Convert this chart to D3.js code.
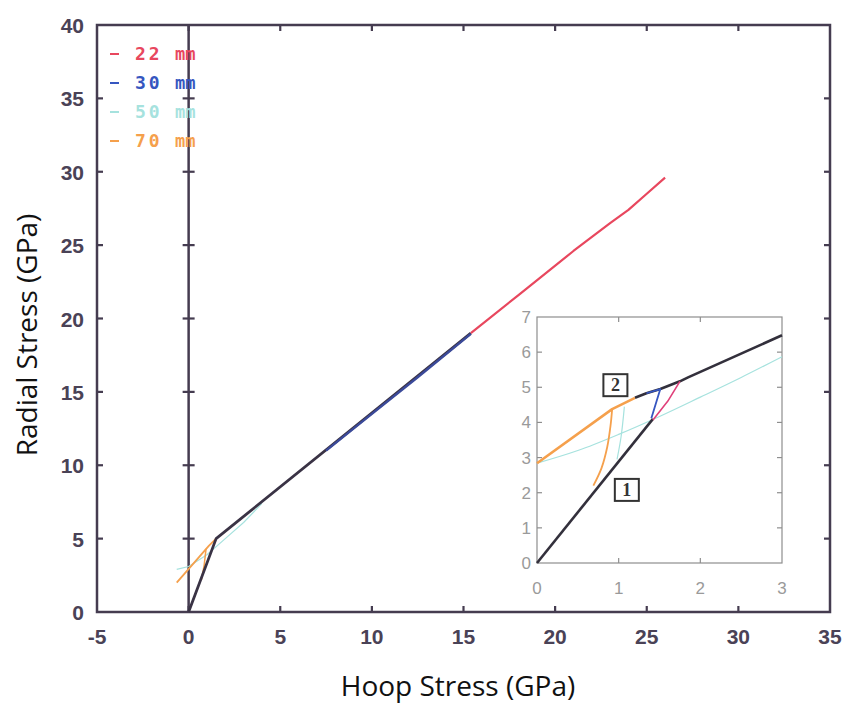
<!DOCTYPE html>
<html>
<head>
<meta charset="utf-8">
<script src="https://cdn.jsdelivr.net/npm/d3@7"></script>
<style>
  body{margin:0;background:#fff;}
  svg{display:block;}
</style>
</head>
<body>
<script>
// main plot values (hoop, radial) in GPa
const xTicks=[-5,0,5,10,15,20,25,30,35];
const yTicks=[0,5,10,15,20,25,30,35,40];
const legendLabels=['22','30','50','70'];
const legendColors=['#e8475e','#3656c0','#a6e2de','#f5a04c'];

const mainBlack=[[0,0],[1.5,5.0],[15.4,19.0]];
const main30=[[7.5,11.0],[10,13.5],[12.5,16.0],[15.4,18.95]];
const main22=[[15.4,19.0],[18,21.6],[21,24.6],[23,26.5],[24,27.4],[25,28.5],[26,29.6]];
const main70=[[-0.65,2.0],[0.4,3.5],[1.1,4.5],[1.5,5.0]];
const main70b=[[0.7,2.2],[0.85,3.2],[0.95,4.3]];
const main50=[[-0.65,2.9],[0,3.1],[1,3.9],[2,5.0],[3,6.1],[4,7.4]];

// inset values
const insXTicks=[0,1,2,3];
const insYTicks=[0,1,2,3,4,5,6,7];
const insBlackA=[[0,0],[1.42,4.1]];
const insBlackB=[[1.2,4.7],[1.34,4.83],[1.51,4.95],[1.75,5.17],[1.85,5.28],[3,6.48]];
const ins30=[[1.4,4.12],[1.51,4.95],[1.34,4.83]];
const ins22=[[1.42,4.07],[1.6,4.6],[1.75,5.17]];
const ins70=[[0,2.84],[0.92,4.38],[1.2,4.7]];
const ins70b=[[0.69,2.2],[0.79,2.7],[0.86,3.3],[0.9,3.9],[0.92,4.38]];
const ins50=[[0,2.84],[0.5,3.2],[1,3.66],[1.5,4.17],[2,4.72],[2.5,5.28],[3,5.87]];
const ins50b=[[0.98,2.95],[1.03,3.6],[1.07,4.45]];
const boxLabels=[{t:'1',x:1.1,y:2.08},{t:'2',x:0.96,y:5.06}];

const W=847,H=703;
const axisCol='#453c50';
const svg=d3.select('body').append('svg').attr('width',W).attr('height',H);

const x=d3.scaleLinear().domain([-5,35]).range([97,830]);
const y=d3.scaleLinear().domain([0,40]).range([612,25]);

// frame
svg.append('rect').attr('x',x(-5)).attr('y',y(40)).attr('width',x(35)-x(-5)).attr('height',y(0)-y(40))
  .attr('fill','none').attr('stroke',axisCol).attr('stroke-width',2.5);

// inward ticks on all four sides
const tl=6;
const g=svg.append('g').attr('stroke',axisCol).attr('stroke-width',2.2);
xTicks.slice(1,-1).forEach(v=>{
  g.append('line').attr('x1',x(v)).attr('x2',x(v)).attr('y1',y(0)).attr('y2',y(0)-tl);
  g.append('line').attr('x1',x(v)).attr('x2',x(v)).attr('y1',y(40)).attr('y2',y(40)+tl);
});
yTicks.slice(1,-1).forEach(v=>{
  g.append('line').attr('x1',x(-5)).attr('x2',x(-5)+tl).attr('y1',y(v)).attr('y2',y(v));
  g.append('line').attr('x1',x(35)).attr('x2',x(35)-tl).attr('y1',y(v)).attr('y2',y(v));
  g.append('line').attr('x1',x(0)-tl).attr('x2',x(0)+tl).attr('y1',y(v)).attr('y2',y(v));
});
// x = 0 line
g.append('line').attr('x1',x(0)).attr('x2',x(0)).attr('y1',y(0)).attr('y2',y(40)).attr('stroke-width',2.5);

// tick labels
const tickFont='"Liberation Sans", Arial, sans-serif';
svg.append('g').selectAll('text').data(xTicks).enter().append('text')
  .attr('x',d=>x(d)).attr('y',644).attr('text-anchor','middle')
  .attr('font-family',tickFont).attr('font-weight','bold').attr('font-size',21).attr('fill','#4a4256')
  .text(d=>d);
svg.append('g').selectAll('text').data(yTicks).enter().append('text')
  .attr('x',84).attr('y',d=>y(d)+8).attr('text-anchor','end')
  .attr('font-family',tickFont).attr('font-weight','bold').attr('font-size',21).attr('fill','#4a4256')
  .text(d=>d);

// axis titles
svg.append('text').attr('x',458).attr('y',696).attr('text-anchor','middle')
  .attr('font-family','"Open Sans", sans-serif').attr('font-size',28).attr('fill','#111')
  .text('Hoop Stress (GPa)');
svg.append('text').attr('transform','translate(37,335) rotate(-90)').attr('text-anchor','middle')
  .attr('font-family','"Open Sans", sans-serif').attr('font-size',28).attr('fill','#111')
  .text('Radial Stress (GPa)');

// main curves
const line=d3.line().x(d=>x(d[0])).y(d=>y(d[1]));
function path(data,col,w,ln){
  svg.append('path').datum(data).attr('d',ln||line).attr('fill','none')
    .attr('stroke',col).attr('stroke-width',w).attr('stroke-linejoin','round');
}
path(main50,legendColors[2],1.2);
path(main70,legendColors[3],1.8);
path(main70b,legendColors[3],1.5);
path(mainBlack,'#3a3345',2.8);
path(main30,'#3b4a9a',2.4);
path(main22,legendColors[0],2.2);

// legend
const leg=svg.append('g').selectAll('g').data(legendLabels).enter().append('g')
  .attr('transform',(d,i)=>'translate(0,'+(54+i*29)+')');
leg.append('line').attr('x1',110).attr('x2',119).attr('y1',0).attr('y2',0)
  .attr('stroke',(d,i)=>legendColors[i]).attr('stroke-width',2);
leg.append('text').attr('x',135).attr('y',6).text(d=>d)
  .attr('font-family','"DejaVu Sans Mono", monospace').attr('font-weight','bold').attr('font-size',18)
  .attr('letter-spacing',3).attr('fill',(d,i)=>legendColors[i]);
leg.append('text').attr('x',175).attr('y',6).text('mm')
  .attr('font-family','"DejaVu Sans Mono", monospace').attr('font-weight','bold').attr('font-size',17)
  .attr('fill',(d,i)=>legendColors[i]);

// inset
const ix=d3.scaleLinear().domain([0,3]).range([537,782]);
const iy=d3.scaleLinear().domain([0,7]).range([563,317]);
const inset=svg.append('g');
inset.append('rect').attr('x',515).attr('y',311).attr('width',280).attr('height',290).attr('fill','#fff');
inset.append('rect').attr('x',ix(0)).attr('y',iy(7)).attr('width',ix(3)-ix(0)).attr('height',iy(0)-iy(7))
  .attr('fill','none').attr('stroke','#8e8e8e').attr('stroke-width',1.2);
const it=inset.append('g').attr('stroke','#8e8e8e').attr('stroke-width',1.2);
insXTicks.slice(1,-1).forEach(v=>{
  it.append('line').attr('x1',ix(v)).attr('x2',ix(v)).attr('y1',iy(0)).attr('y2',iy(0)-5);
  it.append('line').attr('x1',ix(v)).attr('x2',ix(v)).attr('y1',iy(7)).attr('y2',iy(7)+5);
});
insYTicks.slice(1,-1).forEach(v=>{
  it.append('line').attr('x1',ix(0)).attr('x2',ix(0)+5).attr('y1',iy(v)).attr('y2',iy(v));
  it.append('line').attr('x1',ix(3)).attr('x2',ix(3)-5).attr('y1',iy(v)).attr('y2',iy(v));
});
inset.append('g').selectAll('text').data(insYTicks).enter().append('text')
  .attr('x',531).attr('y',d=>iy(d)+6).attr('text-anchor','end')
  .attr('font-family',tickFont).attr('font-size',17).attr('fill','#9a9a9a').text(d=>d);
inset.append('g').selectAll('text').data(insXTicks).enter().append('text')
  .attr('x',d=>ix(d)).attr('y',594).attr('text-anchor','middle')
  .attr('font-family',tickFont).attr('font-size',17).attr('fill','#9a9a9a').text(d=>d);

const iline=d3.line().x(d=>ix(d[0])).y(d=>iy(d[1]));
const icurve=d3.line().x(d=>ix(d[0])).y(d=>iy(d[1])).curve(d3.curveCatmullRom);
function ipath(data,col,w,ln){
  inset.append('path').datum(data).attr('d',ln||iline).attr('fill','none')
    .attr('stroke',col).attr('stroke-width',w).attr('stroke-linejoin','round');
}
ipath(ins50,legendColors[2],1.2,icurve);
ipath(ins50b,legendColors[2],1.2,icurve);
ipath(ins70b,legendColors[3],1.8,icurve);
ipath(ins70,legendColors[3],2.6);
ipath(insBlackA,'#33303c',2.6);
ipath(insBlackB,'#33303c',2.6);
ipath(ins22,'#e0407a',1.6);
ipath(ins30,'#3656c0',1.8);

const bl=inset.append('g').selectAll('g').data(boxLabels).enter().append('g')
  .attr('transform',d=>'translate('+ix(d.x)+','+iy(d.y)+')');
bl.append('rect').attr('x',-12).attr('y',-11).attr('width',24).attr('height',22)
  .attr('fill','#fff').attr('stroke','#333').attr('stroke-width',2);
bl.append('text').attr('y',6).attr('text-anchor','middle')
  .attr('font-family','"Liberation Serif", serif').attr('font-weight','bold').attr('font-size',18)
  .attr('fill','#333').text(d=>d.t);
</script>
</body>
</html>
